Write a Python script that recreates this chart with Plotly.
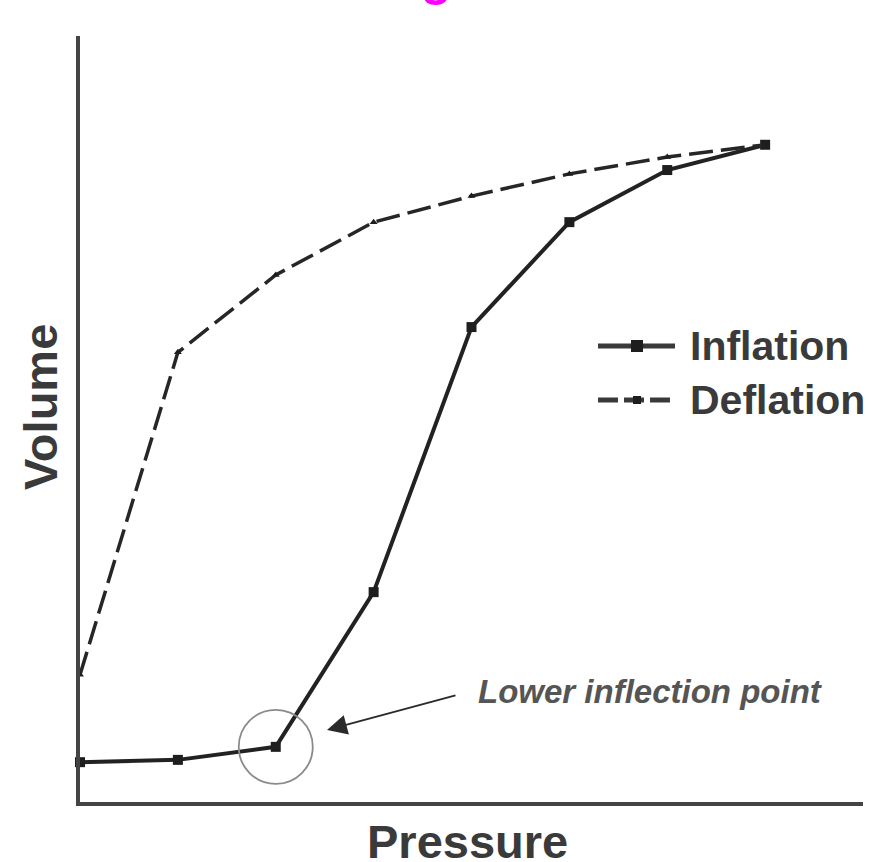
import plotly.graph_objects as go

# Data
pressure = [0, 1, 2, 3, 4, 5, 6, 7]
inflation_volume = [0.52, 0.55, 0.72, 2.74, 6.20, 7.57, 8.25, 8.58]
deflation_volume = [1.66, 5.87, 6.88, 7.57, 7.91, 8.20, 8.42, 8.58]
series_names = ["Inflation", "Deflation"]
lip_x, lip_y = 2, 0.72

W, H = 869, 862
ML, MR, MT, MB = 80, 6, 36, 60
PW, PH = W - ML - MR, H - MT - MB
X0, X1, Y0, Y1 = 0, 8, 0, 10

def px(xp):
    return (xp - ML) / PW

def py(yp):
    return (H - MB - yp) / PH

FONT = "Liberation Sans, Arial, sans-serif"
TXT = "#3a3a3a"

fig = go.Figure()
fig.add_trace(go.Scatter(
    x=pressure, y=inflation_volume, mode="lines+markers", name=series_names[0],
    line=dict(color="#222222", width=4),
    marker=dict(symbol="square", size=10, color="#1e1e1e"),
    cliponaxis=False, showlegend=False))
fig.add_trace(go.Scatter(
    x=pressure, y=deflation_volume, mode="lines+markers", name=series_names[1],
    line=dict(color="#262626", width=3.5, dash="24px,8px"),
    marker=dict(symbol="triangle-up", size=7, color="#1e1e1e"),
    cliponaxis=False, showlegend=False))

xs = PW / (X1 - X0)
ys = PH / (Y1 - Y0)
r = 37
shapes = [
    dict(type="circle", xref="x", yref="y",
         x0=lip_x - r / xs, x1=lip_x + r / xs, y0=lip_y - r / ys, y1=lip_y + r / ys,
         line=dict(color="#8a8a8a", width=1.8)),
]
# manual legend
leg_y = [346, 400]
for i, yp in enumerate(leg_y):
    shapes.append(dict(type="line", xref="paper", yref="paper",
                       x0=px(598), x1=px(675), y0=py(yp), y1=py(yp),
                       line=dict(color="#3a3a3a", width=5,
                                 dash="solid" if i == 0 else "20px,6px")))
    s = 6 if i == 0 else 4
    shapes.append(dict(type="rect", xref="paper", yref="paper",
                       x0=px(637 - s), x1=px(637 + s), y0=py(yp + s), y1=py(yp - s),
                       fillcolor="#1e1e1e", line=dict(width=0)))

annotations = [
    dict(text="<b>Inflation</b>", xref="paper", yref="paper", x=px(688), y=py(346),
         xanchor="left", yanchor="middle", showarrow=False,
         font=dict(size=41, color=TXT, family=FONT)),
    dict(text="<b>Deflation</b>", xref="paper", yref="paper", x=px(688), y=py(400),
         xanchor="left", yanchor="middle", showarrow=False,
         font=dict(size=41, color=TXT, family=FONT)),
    dict(text="<b><i>Lower inflection point</i></b>", xref="paper", yref="paper",
         x=px(476), y=py(691), xanchor="left", yanchor="middle", showarrow=False,
         font=dict(size=33, color="#555555", family=FONT)),
    dict(text="", x=(327 - ML) / xs, y=(H - MB - 730) / ys, xref="x", yref="y",
         showarrow=True, ax=130, ay=-35, arrowhead=2, arrowsize=2, arrowwidth=2,
         arrowcolor="#2a2a2a"),
    dict(text="<b>Pressure</b>", xref="paper", yref="paper", x=px(467), y=py(841),
         xanchor="center", yanchor="middle", showarrow=False,
         font=dict(size=47, color=TXT, family=FONT)),
    dict(text="<b>Volume</b>", xref="paper", yref="paper", x=px(40), y=py(407),
         xanchor="center", yanchor="middle", showarrow=False, textangle=-90,
         font=dict(size=47, color=TXT, family=FONT)),
    dict(text="<b>g</b>", xref="paper", yref="paper", x=px(436), y=py(8),
         xanchor="center", yanchor="bottom", showarrow=False,
         font=dict(size=50, color="#ff00ff", family=FONT)),
]

fig.update_layout(
    width=W, height=H,
    margin=dict(l=ML, r=MR, t=MT, b=MB, pad=0),
    paper_bgcolor="white", plot_bgcolor="white",
    showlegend=False,
    shapes=shapes, annotations=annotations,
    xaxis=dict(range=[X0, X1], showgrid=False, zeroline=False, showticklabels=False,
               ticks="", showline=True, linewidth=4, linecolor="#444444"),
    yaxis=dict(range=[Y0, Y1], showgrid=False, zeroline=False, showticklabels=False,
               ticks="", showline=True, linewidth=4, linecolor="#444444"),
)

fig.write_html("out.html", config={"displayModeBar": False},
               post_script="document.body.style.margin='0';document.body.style.overflow='hidden';")
